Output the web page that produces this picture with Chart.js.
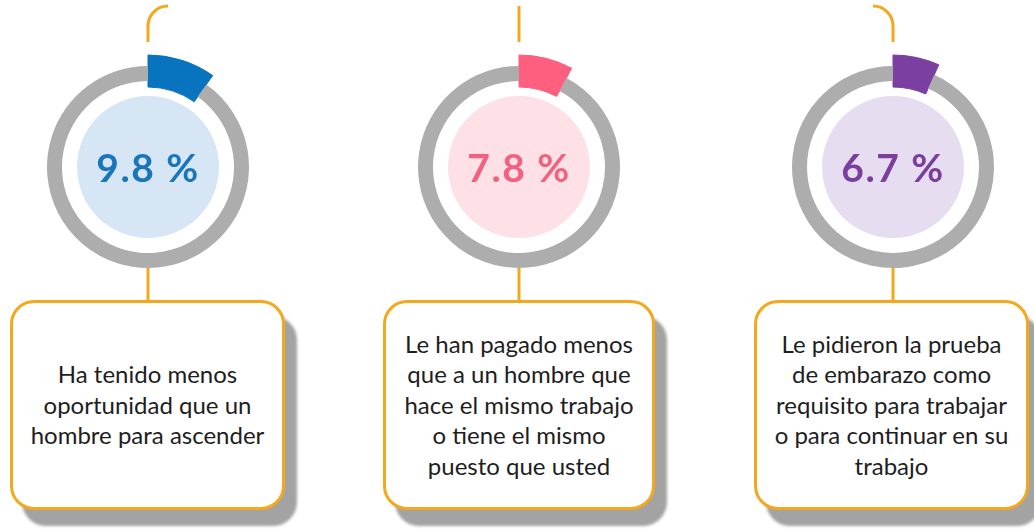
<!DOCTYPE html>
<html>
<head>
<meta charset="utf-8">
<script src="https://cdn.jsdelivr.net/npm/chart.js@4.4.1/dist/chart.umd.min.js"></script>
<style>
  body { margin: 0; background: #fff; }
  #lienzo { position: relative; width: 1034px; height: 531px; overflow: hidden; background: #fff; }
  #conectores { position: absolute; left: 0; top: 0; }
  .medidor { position: absolute; width: 240px; height: 240px; }
  .porcentaje { position: absolute; width: 200px; text-align: center; font-family: Lato, sans-serif; font-weight: 700; font-size: 39px; letter-spacing: 1.5px; line-height: 40px; }
  .caja { position: absolute; top: 300px; height: 204px; border: 3px solid #f4a81e; border-radius: 24px; background: #fff;
          box-shadow: 12px 16px 3px #a3a3a3; display: flex; align-items: center; justify-content: center; box-sizing: content-box; }
  .caja p { margin: 0; text-align: center; font-family: Lato, sans-serif; font-size: 24px; line-height: 30.5px; color: #1e1e1e; }
</style>
</head>
<body>
<div id="lienzo">
  <svg id="conectores" width="1034" height="531"></svg>
</div>
<script>
// datos
var valores = [9.8, 7.8, 6.7];
var etiquetas = ['9.8 %', '7.8 %', '6.7 %'];
var textos = [
  ['Ha tenido menos', 'oportunidad que un', 'hombre para ascender'],
  ['Le han pagado menos', 'que a un hombre que', 'hace el mismo trabajo', 'o tiene el mismo', 'puesto que usted'],
  ['Le pidieron la prueba', 'de embarazo como', 'requisito para trabajar', 'o para continuar en su', 'trabajo']
];
var coresArco = ['#0873be', '#ff5f7e', '#7b3fa2'];
var coresFondo = ['#d7e6f4', '#fde1e7', '#e7ddf0'];
var coresTexto = ['#1a76bb', '#f2627f', '#7a3e9f'];

var cinza = '#adadad';
var naranja = '#f4a81e';
var transparente = 'rgba(0,0,0,0)';

var centrosX = [148, 519, 893];
var centroY = 167;
var cajasX = [10, 383, 754];
var cajasAncho = [269, 266, 269];

var lienzo = document.getElementById('lienzo');
var svg = document.getElementById('conectores');

var trazos = [
  'M148 42 V26 A20 20 0 0 1 168 6',
  'M519 6 V42',
  'M893 42 V26 A20 20 0 0 0 873 6',
  'M148 268 V301', 'M519 268 V301', 'M893 268 V301'
];
for (var t = 0; t < trazos.length; t++) {
  var p = document.createElementNS('http://www.w3.org/2000/svg', 'path');
  p.setAttribute('d', trazos[t]);
  p.setAttribute('fill', 'none');
  p.setAttribute('stroke', naranja);
  p.setAttribute('stroke-width', '3');
  svg.appendChild(p);
}

for (var i = 0; i < valores.length; i++) {
  var v = valores[i];
  var cor = coresArco[i];

  var canvas = document.createElement('canvas');
  canvas.className = 'medidor';
  canvas.width = 240;
  canvas.height = 240;
  canvas.style.left = (centrosX[i] - 120) + 'px';
  canvas.style.top = (centroY - 120) + 'px';
  lienzo.appendChild(canvas);

  // anillos de fuera hacia dentro: arco exterior, anillo gris, arco interior, hueco, circulo
  var data = {
    labels: ['valor', 'resto'],
    datasets: [
      { data: [v, 100 - v], weight: 11, backgroundColor: [cor, transparente], borderColor: [cor, transparente], borderWidth: [1, 0] },
      { data: [v, 100 - v], weight: 15, backgroundColor: [cor, cinza], borderColor: [cor, cinza], borderWidth: [1, 0] },
      { data: [v, 100 - v], weight: 6, backgroundColor: [cor, transparente], borderColor: [cor, transparente], borderWidth: [1, 0] },
      { data: [100], weight: 9, backgroundColor: [transparente], borderWidth: 0 },
      { data: [100], weight: 71, backgroundColor: [coresFondo[i]], borderWidth: 0 }
    ]
  };

  new Chart(canvas, {
    type: 'doughnut',
    data: data,
    options: {
      responsive: false,
      animation: false,
      events: [],
      radius: 112,
      cutout: 0,
      layout: { padding: 0 },
      plugins: { legend: { display: false }, tooltip: { enabled: false } }
    }
  });

  var pct = document.createElement('div');
  pct.className = 'porcentaje';
  pct.textContent = etiquetas[i];
  pct.style.color = coresTexto[i];
  pct.style.left = (centrosX[i] - 100) + 'px';
  pct.style.top = (centroY - 20) + 'px';
  lienzo.appendChild(pct);

  var caja = document.createElement('div');
  caja.className = 'caja';
  caja.style.left = cajasX[i] + 'px';
  caja.style.width = cajasAncho[i] + 'px';
  var parrafo = document.createElement('p');
  parrafo.innerHTML = textos[i].join('<br>');
  caja.appendChild(parrafo);
  lienzo.appendChild(caja);
}
</script>
</body>
</html>
